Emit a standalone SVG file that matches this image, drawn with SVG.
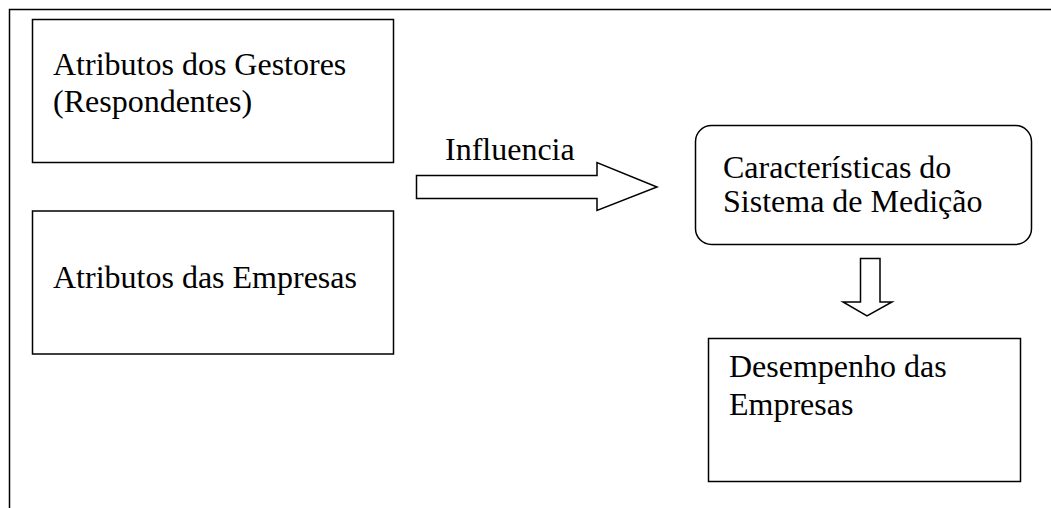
<svg xmlns="http://www.w3.org/2000/svg" width="1051" height="508" viewBox="0 0 1051 508">
<style>
.b{fill:#fff;stroke:#000;stroke-width:1.5}
.t{font-family:"Liberation Serif","Times New Roman",serif;font-size:32px;fill:#000}
.f{fill:none;stroke:#000;stroke-width:1.5}
</style>
<rect width="1051" height="508" fill="#fff"/>
<g id="frame"><path class="f" d="M9.5,508 V9.5 H1051"/></g>
<g id="n1"><rect class="b" x="32.5" y="19.5" width="361" height="143"/>
<text class="t" x="53" y="75">Atributos dos Gestores</text><text class="t" x="53" y="112">(Respondentes)</text></g>
<g id="n2"><rect class="b" x="32.5" y="211" width="361" height="143"/>
<text class="t" x="53" y="288">Atributos das Empresas</text></g>
<g id="n3"><rect class="b" x="695.5" y="125.5" width="336" height="119" rx="16"/>
<text class="t" x="723" y="178">Características do</text><text class="t" x="723" y="212">Sistema de Medição</text></g>
<g id="n4"><rect class="b" x="708.5" y="338.5" width="312" height="143"/>
<text class="t" x="729" y="377">Desempenho das</text><text class="t" x="729" y="415">Empresas</text></g>
<g id="connectors">
<path class="b" d="M416.5,175.5 H597 V162.5 L657,187 L597,210.5 V198.5 H416.5 Z"/>
<text class="t" x="445" y="160">Influencia</text>
<path class="b" d="M860.5,258.5 H880 V302 H892 L867,316 L843,302 H860.5 Z"/>
</g>
</svg>
